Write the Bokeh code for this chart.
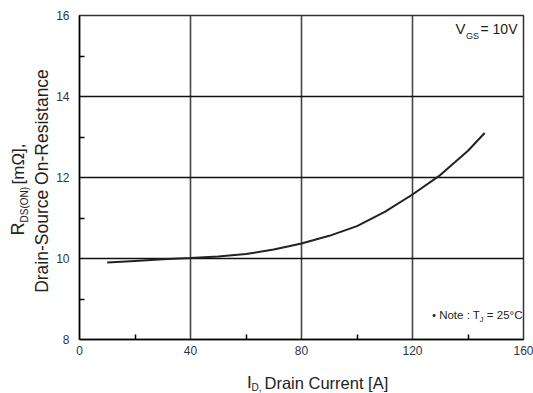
import math
from bokeh.plotting import figure
from bokeh.models import Range1d, FixedTicker, Label, ColumnDataSource
from bokeh.layouts import row, column
from bokeh.embed import file_html
from bokeh.resources import INLINE

# Data
drain_current = [10, 20, 30, 40, 50, 60, 70, 80, 90, 100, 110, 120, 130, 140, 146]
r_ds_on = [9.90, 9.94, 9.98, 10.01, 10.05, 10.11, 10.22, 10.37, 10.56, 10.80,
           11.15, 11.58, 12.06, 12.66, 13.10]
x_ticks = [0, 40, 80, 120, 160]
x_minor = [20, 60, 100, 140]
y_ticks = [8, 10, 12, 14, 16]
y_minor = [9, 11, 13, 15]

FONT = "Liberation Sans"
TXT = "#222222"
YL_W = 53  # width of the y-label panel

# ---- main plot ----
p = figure(width=533 - YL_W, height=365, output_backend="svg", toolbar_location=None,
           x_range=Range1d(0, 160), y_range=Range1d(8, 16),
           min_border_left=79 - YL_W, min_border_right=10, min_border_top=15, min_border_bottom=26)
p.background_fill_color = "white"
p.border_fill_color = "white"
p.outline_line_color = "#333333"
p.outline_line_width = 1.5

p.xaxis.ticker = FixedTicker(ticks=x_ticks, minor_ticks=x_minor)
p.yaxis.ticker = FixedTicker(ticks=y_ticks, minor_ticks=y_minor)
for ax in (p.xaxis, p.yaxis):
    ax.major_tick_out = 0
    ax.major_tick_in = 0
    ax.minor_tick_out = 0
    ax.minor_tick_in = 5
    ax.minor_tick_line_color = "black"
    ax.minor_tick_line_width = 1.5
    ax.axis_line_color = "black"
    ax.axis_line_width = 1.5
    ax.major_label_text_font = FONT
    ax.major_label_text_font_size = "12px"
    ax.major_label_text_color = "#333344"
p.xaxis.major_label_standoff = 6
p.yaxis.major_label_standoff = 10

p.xgrid.ticker = FixedTicker(ticks=x_ticks)
p.ygrid.ticker = FixedTicker(ticks=y_ticks)
p.xgrid.grid_line_color = "#444444"
p.xgrid.grid_line_width = 1.6
p.ygrid.grid_line_color = "#111111"
p.ygrid.grid_line_width = 1.3

src = ColumnDataSource(data=dict(x=drain_current, y=r_ds_on))
p.line("x", "y", source=src, line_color="#222222", line_width=2)


def lab(fig, text, x, y, size, angle=0.0, align="left"):
    fig.add_layout(Label(x=x, y=y, text=text, text_font=FONT, text_font_size=size,
                         text_color=TXT, angle=angle, text_align=align,
                         text_baseline="alphabetic"))

# V_GS annotation
lab(p, "V", 135.5, 15.667, "15px")
lab(p, "GS", 139.3, 15.50, "9px")
lab(p, "= 10V", 144.5, 15.659, "14px")

# Note annotation
lab(p, "\u2022 Note : T", 127.0, 8.60, "11.5px")
lab(p, "J", 144.2, 8.50, "7.5px")
lab(p, "= 25\u00b0C", 146.8, 8.60, "11.5px")

# ---- y-axis label panel ----
yl = figure(width=YL_W, height=393, output_backend="svg", toolbar_location=None,
            x_range=Range1d(0, YL_W), y_range=Range1d(0, 393),
            x_axis_type=None, y_axis_type=None, min_border=0)
yl.outline_line_color = None
yl.grid.visible = False
rot = math.pi / 2
lab(yl, "R", 17.6, 393 - 235, "18px", angle=rot)
lab(yl, "DS(ON)", 24, 393 - 222, "10px", angle=rot)
lab(yl, "[m\u03a9],", 17.9, 393 - 184, "17px", angle=rot)
lab(yl, "Drain-Source On-Resistance", 41.8, 393 - 180.5, "17.5px", angle=rot, align="center")

# ---- x-axis label panel ----
xl = figure(width=533 - YL_W, height=28, output_backend="svg", toolbar_location=None,
            x_range=Range1d(YL_W, 533), y_range=Range1d(0, 28),
            x_axis_type=None, y_axis_type=None, min_border=0)
xl.outline_line_color = None
xl.grid.visible = False
lab(xl, "I", 234, 11.1, "17px")
lab(xl, "D,", 239, 6.0, "10px")
lab(xl, "Drain Current [A]", 253, 10.8, "16.5px")

layout = row(yl, column(p, xl))
open("out.html", "w").write(file_html(layout, INLINE))
